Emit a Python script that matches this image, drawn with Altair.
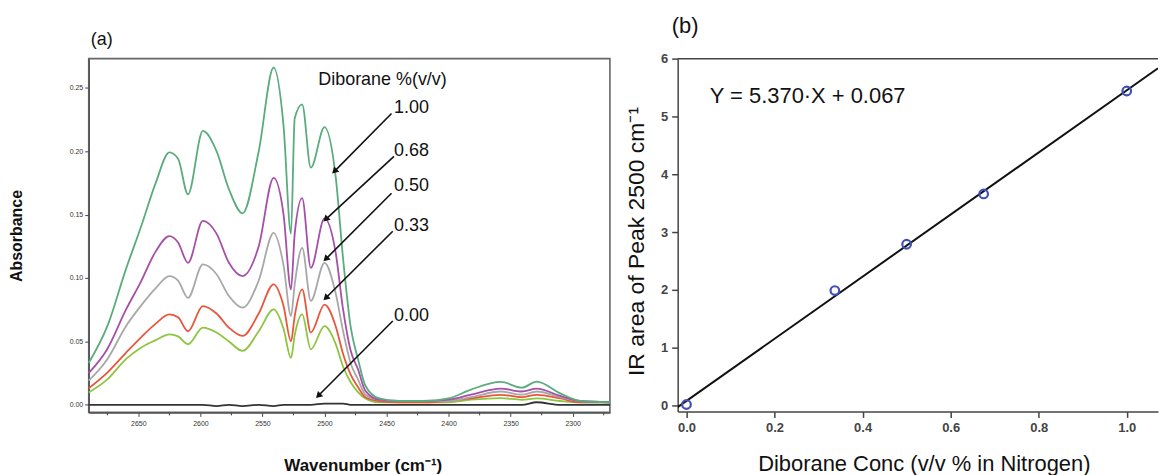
import altair as alt
import pandas as pd

# ---------------- Panel (a): IR spectra ----------------
wavenumber = [2690, 2675, 2660, 2648, 2636, 2625, 2618, 2610, 2598, 2587,
              2577, 2566, 2553, 2541, 2533, 2527, 2524, 2518, 2511, 2500,
              2491, 2485, 2479, 2473, 2467, 2456, 2440, 2420, 2400, 2382,
              2358, 2341, 2329, 2310, 2294, 2270]

abs_1_00 = [0.033, 0.062, 0.107, 0.140, 0.175, 0.199, 0.194, 0.166, 0.216, 0.200,
            0.170, 0.151, 0.200, 0.266, 0.220, 0.135, 0.226, 0.237, 0.187, 0.219,
            0.180, 0.115, 0.062, 0.036, 0.015, 0.005, 0.003, 0.003, 0.005, 0.012,
            0.018, 0.0135, 0.0183, 0.009, 0.003, 0.002]
abs_0_68 = [0.025, 0.044, 0.075, 0.097, 0.121, 0.133, 0.128, 0.112, 0.145, 0.135,
            0.112, 0.1015, 0.125, 0.179, 0.150, 0.091, 0.135, 0.163, 0.108, 0.147,
            0.120, 0.075, 0.043, 0.028, 0.011, 0.004, 0.003, 0.003, 0.004, 0.008,
            0.0128, 0.0105, 0.0128, 0.007, 0.003, 0.002]
abs_0_50 = [0.019, 0.036, 0.062, 0.078, 0.092, 0.1015, 0.098, 0.0844, 0.1107, 0.103,
            0.0858, 0.0766, 0.098, 0.1356, 0.110, 0.070, 0.095, 0.1238, 0.082, 0.112,
            0.088, 0.058, 0.033, 0.020, 0.008, 0.004, 0.003, 0.003, 0.003, 0.006,
            0.0105, 0.008, 0.0105, 0.006, 0.003, 0.002]
abs_0_33 = [0.013, 0.0254, 0.041, 0.053, 0.064, 0.0713, 0.069, 0.058, 0.0779, 0.072,
            0.0608, 0.0543, 0.072, 0.095, 0.078, 0.050, 0.070, 0.091, 0.057, 0.079,
            0.062, 0.040, 0.024, 0.014, 0.006, 0.003, 0.002, 0.002, 0.003, 0.005,
            0.0079, 0.006, 0.0079, 0.005, 0.002, 0.002]
abs_unlabeled = [0.0097, 0.020, 0.036, 0.045, 0.051, 0.0556, 0.054, 0.0478, 0.0608, 0.057,
                 0.050, 0.0425, 0.058, 0.0753, 0.060, 0.037, 0.055, 0.0713, 0.0438, 0.062,
                 0.048, 0.030, 0.018, 0.010, 0.005, 0.002, 0.002, 0.002, 0.002, 0.004,
                 0.0053, 0.004, 0.005, 0.003, 0.002, 0.002]
abs_0_00 = [0.000, 0.000, 0.000, 0.000, 0.000, 0.000, 0.000, 0.000, 0.000, -0.001,
            0.000, -0.001, 0.000, -0.001, 0.000, 0.000, 0.000, 0.000, 0.000, 0.001,
            0.001, 0.001, 0.000, 0.000, 0.000, 0.000, 0.000, 0.000, 0.000, 0.000,
            0.000, 0.000, 0.002, 0.000, 0.000, 0.000]

series_names = ["0.00", "unlabeled", "0.33", "0.50", "0.68", "1.00"]
series_values = [abs_0_00, abs_unlabeled, abs_0_33, abs_0_50, abs_0_68, abs_1_00]
series_colors = ["#333333", "#8dc53f", "#e8563b", "#a8a8a8", "#a64fa9", "#5aab7e"]

# axis ticks of panel (a)
major_wn_ticks = [2650, 2600, 2550, 2500, 2450, 2400, 2350, 2300]
minor_wn_ticks = [2675, 2625, 2575, 2525, 2475, 2425, 2375, 2325, 2275]
abs_ticks = [0, 0.05, 0.10, 0.15, 0.20, 0.25]

# annotation labels (data coordinates)
label_text = ["Diborane %(v/v)", "1.00", "0.68", "0.50", "0.33", "0.00"]
label_wn = [2505, 2444, 2444, 2444, 2444, 2444]
label_abs = [0.2565, 0.2337, 0.1998, 0.1723, 0.1408, 0.0700]

arrow_start_wn = [2446, 2444, 2446, 2445, 2445]
arrow_start_abs = [0.2297, 0.1959, 0.1668, 0.1369, 0.0661]
arrow_end_wn = [2492, 2499, 2499, 2499, 2505]
arrow_end_abs = [0.1841, 0.1463, 0.1149, 0.0842, 0.0071]

panel_labels = ["(a)", "(b)"]

# ---------------- Panel (b): calibration ----------------
conc = [0.0, 0.337, 0.5, 0.675, 1.0]
ir_area = [0.02, 1.99, 2.79, 3.66, 5.44]
equation = ["Y = 5.370\u00b7X + 0.067"]
equation_x = [0.053]
equation_y = [5.36]
conc_ticks = [0, 0.2, 0.4, 0.6, 0.8, 1.0]
area_ticks = [0, 1, 2, 3, 4, 5, 6]

# ---------------- build tables ----------------
rows = []
for name, vals in zip(series_names, series_values):
    for w, v in zip(wavenumber, vals):
        rows.append({"series": name, "wn": w, "absorb": v})
spec_df = pd.DataFrame(rows)
label_df = pd.DataFrame({"text": label_text, "wn": label_wn, "absorb": label_abs})
arrow_df = pd.DataFrame({"wn": arrow_start_wn, "absorb": arrow_start_abs,
                         "wn2": arrow_end_wn, "absorb2": arrow_end_abs})
minor_df = pd.DataFrame({"wn": minor_wn_ticks})
pts_df = pd.DataFrame({"conc": conc, "area": ir_area})
eq_df = pd.DataFrame({"text": equation, "conc": equation_x, "area": equation_y})

FONT = "Liberation Sans"
W1, H1 = 523, 355
W2, H2 = 482, 354

xs1 = alt.Scale(domain=[2270, 2690], reverse=True, nice=False, zero=False)
ys1 = alt.Scale(domain=[-0.006, 0.273], nice=False, zero=False)

x_axis1 = alt.Axis(
    values=major_wn_ticks, format="d",
    labelOverlap=False, labelFlush=False,
    labelFontSize=7, labelColor="#333", tickSize=4, tickColor="#444",
    domainColor="#555", domainWidth=1.5, grid=False, labelPadding=3,
    title="Wavenumber (cm\u207b\u00b9)", titleFont=FONT, titleFontSize=17,
    titleFontWeight="bold", titleColor="#111", titleX=275, titleY=53,
    titleAlign="center", titleBaseline="middle")
y_axis1 = alt.Axis(
    values=abs_ticks, format=".2f",
    labelOverlap=False, labelFlush=False,
    labelFontSize=7, labelColor="#333", tickSize=4, tickColor="#444",
    domainColor="#555", domainWidth=1.5, grid=False, labelPadding=2,
    title="Absorbance", titleFont=FONT, titleFontSize=16, titleFontWeight="bold",
    titleColor="#111", titleX=-72, titleY=H1 / 2, titleAngle=270,
    titleAlign="center", titleBaseline="middle")

spectra = alt.Chart(spec_df).mark_line(strokeWidth=1.8, interpolate="monotone").encode(
    x=alt.X("wn:Q", scale=xs1, axis=x_axis1),
    y=alt.Y("absorb:Q", scale=ys1, axis=y_axis1),
    color=alt.Color("series:N", scale=alt.Scale(domain=series_names, range=series_colors),
                    legend=None),
    order=alt.Order("wn:Q", sort="descending"),
    detail="series:N",
)

minor = alt.Chart(minor_df).mark_rule(color="#444", strokeWidth=1).encode(
    x=alt.X("wn:Q", scale=xs1), y=alt.value(H1), y2=alt.value(H1 + 3))

labels_a = alt.Chart(label_df).mark_text(
    align="left", baseline="middle", font=FONT, fontSize=18, color="#111"
).encode(x=alt.X("wn:Q", scale=xs1), y=alt.Y("absorb:Q", scale=ys1), text="text:N")

arrows = alt.Chart(arrow_df).mark_rule(color="#111", strokeWidth=1.6).encode(
    x=alt.X("wn:Q", scale=xs1), y=alt.Y("absorb:Q", scale=ys1),
    x2="wn2:Q", y2="absorb2:Q")

heads = alt.Chart(arrow_df).mark_point(
    shape="triangle-up", filled=True, color="#111", size=55, angle=225, opacity=1
).encode(x=alt.X("wn2:Q", scale=xs1), y=alt.Y("absorb2:Q", scale=ys1))

tag_a = alt.Chart(pd.DataFrame({"t": [panel_labels[0]]})).mark_text(
    align="left", baseline="middle", font=FONT, fontSize=18, color="#111"
).encode(x=alt.value(2), y=alt.value(-19), text="t:N")

left = alt.layer(spectra, minor, arrows, heads, labels_a, tag_a).properties(
    width=W1, height=H1,
    view=alt.ViewBackground(stroke="#666", strokeWidth=1.6))

# ---------------- right panel ----------------
xs2 = alt.Scale(domain=[-0.02, 1.071], nice=False, zero=False)
ys2 = alt.Scale(domain=[-0.1, 6], nice=False, zero=False)

x_axis2 = alt.Axis(
    values=conc_ticks, format=".1f", labelFont=FONT,
    labelFontSize=13, labelColor="#444", labelFontWeight="bold",
    tickSize=6, tickColor="#444", tickWidth=1.5, domainColor="#444", domainWidth=1.5,
    grid=False, labelPadding=4,
    title="Diborane Conc (v/v % in Nitrogen)", titleFont=FONT, titleFontSize=22,
    titleFontWeight="normal", titleColor="#111", titleX=W2 / 2 + 6, titleY=52,
    titleAlign="center", titleBaseline="middle")
y_axis2 = alt.Axis(
    values=area_ticks, format="d", labelFont=FONT,
    labelFontSize=13, labelColor="#444", labelFontWeight="bold",
    tickSize=6, tickColor="#444", tickWidth=1.5, domainColor="#444", domainWidth=1.5,
    grid=False, labelPadding=4,
    title="IR area of Peak 2500 cm\u207b\u00b9", titleFont=FONT, titleFontSize=23,
    titleFontWeight="normal", titleColor="#111", titleX=-41, titleY=183,
    titleAngle=270, titleAlign="center", titleBaseline="middle")

fit = alt.Chart(pts_df).transform_regression(
    "conc", "area", extent=[-0.02, 1.071]
).mark_line(color="#111", strokeWidth=2, clip=True).encode(
    x=alt.X("conc:Q", scale=xs2, axis=x_axis2),
    y=alt.Y("area:Q", scale=ys2, axis=y_axis2))

points = alt.Chart(pts_df).mark_point(
    shape="circle", filled=False, size=75, strokeWidth=2.2, color="#4050b8", opacity=1
).encode(x=alt.X("conc:Q", scale=xs2), y=alt.Y("area:Q", scale=ys2))

eq = alt.Chart(eq_df).mark_text(
    align="left", baseline="middle", font=FONT, fontSize=22, color="#111"
).encode(x=alt.X("conc:Q", scale=xs2), y=alt.Y("area:Q", scale=ys2), text="text:N")

top_line = alt.Chart(pd.DataFrame({"v": [6]})).mark_rule(color="#444", strokeWidth=1.5).encode(
    y=alt.Y("v:Q", scale=ys2), x=alt.value(0), x2=alt.value(W2))

tag_b = alt.Chart(pd.DataFrame({"t": [panel_labels[1]]})).mark_text(
    align="left", baseline="middle", font=FONT, fontSize=22, color="#111"
).encode(x=alt.value(-6), y=alt.value(-33), text="t:N")

right = alt.layer(top_line, fit, points, eq, tag_b).properties(
    width=W2, height=H2,
    view=alt.ViewBackground(stroke="transparent"))

chart = alt.hconcat(left, right, spacing=68, bounds="flush").properties(
    padding={"left": 0, "top": 5, "right": 0, "bottom": 0}
).configure(font=FONT).configure_view(stroke="#666")

chart.save("out.html", embed_options={"renderer": "svg", "actions": False})
